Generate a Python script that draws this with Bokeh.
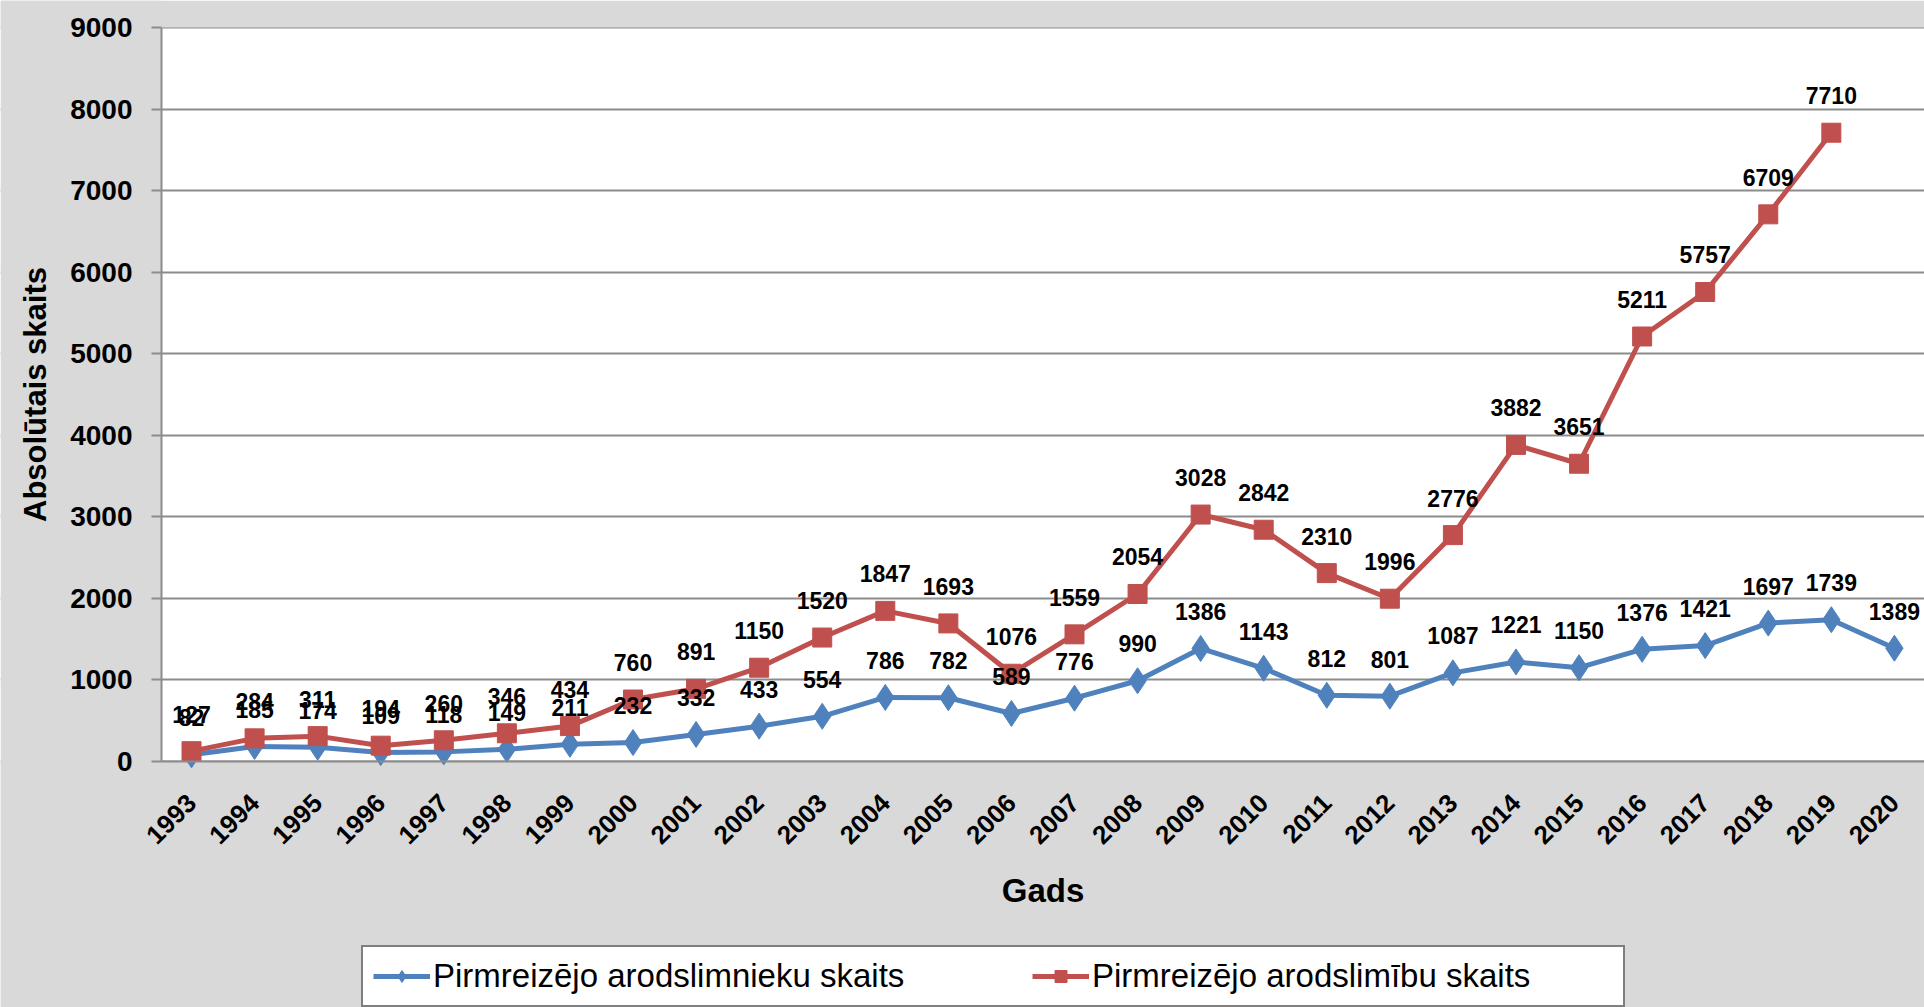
from bokeh.plotting import figure
from bokeh.models import (ColumnDataSource, Range1d, FixedTicker, Legend, LegendItem,
                          BoxAnnotation, Label)
from bokeh.core.properties import value
from bokeh.embed import file_html
from bokeh.resources import INLINE
import math

years = list(range(1993, 2021))
slimnieki = [82, 185, 174, 109, 118, 149, 211, 232, 332, 433, 554, 786, 782, 589,
             776, 990, 1386, 1143, 812, 801, 1087, 1221, 1150, 1376, 1421, 1697, 1739, 1389]
slimibas_years = list(range(1993, 2020))
slimibas = [127, 284, 311, 194, 260, 346, 434, 760, 891, 1150, 1520, 1847, 1693, 1076,
            1559, 2054, 3028, 2842, 2310, 1996, 2776, 3882, 3651, 5211, 5757, 6709, 7710]

label_blue = "Pirmreizējo arodslimnieku skaits"
label_red = "Pirmreizējo arodslimību skaits"
y_title = "Absolūtais skaits"
x_title = "Gads"

BLUE = "#4f81bd"
RED = "#c0504d"
BG = "#d9d9d9"
GRID = "#8c8c8c"
FONT = "Liberation Sans"

# layout (pixels): plot area left edge 161, top 27, 63.07 px per year, 734 px for 0..9000
PX_YEAR = 63.07
PX_Y = 734 / 9000
X0 = 1992.524                      # left edge of the plot area
X_START = X0 - 161 / PX_YEAR       # canvas left edge
X_END = X0 + 1763 / PX_YEAR        # canvas right edge
Y_MAX = 9000                       # top of the plot area
Y_TOP = Y_MAX + 27 / PX_Y          # canvas top edge
Y_MIN = -246 / PX_Y                # canvas bottom edge

src_b = ColumnDataSource(dict(x=years, y=slimnieki, lbl=[str(v) for v in slimnieki]))
src_r = ColumnDataSource(dict(x=slimibas_years, y=slimibas, lbl=[str(v) for v in slimibas]))

p = figure(width=1924, height=1007, frame_width=1924, frame_height=1007,
           output_backend="svg", toolbar_location=None,
           x_range=Range1d(X_START, X_END), y_range=Range1d(Y_MIN, Y_TOP),
           background_fill_color="white", border_fill_color=BG,
           min_border_left=0, min_border_top=0, min_border_right=0, min_border_bottom=0)
p.outline_line_color = None

# grey areas outside the Excel plot area
p.add_layout(BoxAnnotation(top=0, fill_color=BG, fill_alpha=1.0, line_color=None,
                           level="underlay"))
p.add_layout(BoxAnnotation(bottom=Y_MAX, fill_color=BG, fill_alpha=1.0, line_color=None,
                           level="underlay"))
p.add_layout(BoxAnnotation(right=X0, fill_color=BG, fill_alpha=1.0, line_color=None,
                           level="underlay"))

# grid
p.xgrid.grid_line_color = None
p.ygrid.grid_line_color = GRID
p.ygrid.grid_line_width = 2
p.yaxis.ticker = FixedTicker(ticks=list(range(0, 9001, 1000)))
p.xaxis.ticker = FixedTicker(ticks=years)

# y axis, drawn at the left edge of the plot area
p.yaxis.fixed_location = X0
p.yaxis.bounds = (0, Y_MAX)
p.yaxis.axis_line_color = GRID
p.yaxis.axis_line_width = 2
p.yaxis.major_tick_line_color = GRID
p.yaxis.major_tick_line_width = 2
p.yaxis.major_tick_out = 10
p.yaxis.major_tick_in = 0
p.yaxis.minor_tick_line_color = None
p.yaxis.major_label_text_font = FONT
p.yaxis.major_label_text_font_style = "bold"
p.yaxis.major_label_text_font_size = "28px"
p.yaxis.major_label_text_color = "black"
p.yaxis.major_label_standoff = 19

# x axis, drawn at y = 0
p.xaxis.fixed_location = 0
p.xaxis.bounds = (X0, X_END)
p.xaxis.axis_line_color = GRID
p.xaxis.axis_line_width = 2
p.xaxis.major_tick_line_color = None
p.xaxis.major_tick_out = 0
p.xaxis.major_tick_in = 0
p.xaxis.minor_tick_line_color = None
p.xaxis.major_label_orientation = math.pi / 4
p.xaxis.major_label_text_font = FONT
p.xaxis.major_label_text_font_style = "bold"
p.xaxis.major_label_text_font_size = "26px"
p.xaxis.major_label_text_color = "black"
p.xaxis.major_label_standoff = 37

# axis titles
p.add_layout(Label(x=X_START + 35 / PX_YEAR, y=Y_MAX / 2, text=y_title, angle=math.pi / 2,
                   text_align="center", text_baseline="middle", text_font=FONT,
                   text_font_style="bold", text_font_size="31px", text_color="black"))
p.add_layout(Label(x=(X0 + X_END) / 2, y=-129 / PX_Y, text=x_title,
                   text_align="center", text_baseline="middle", text_font=FONT,
                   text_font_style="bold", text_font_size="33px", text_color="black"))

# series
lb = p.line("x", "y", source=src_b, color=BLUE, line_width=5)
mb = p.scatter("x", "y", source=src_b, marker="diamond", size=26, color=BLUE)
lr = p.line("x", "y", source=src_r, color=RED, line_width=5)
mr = p.scatter("x", "y", source=src_r, marker="square", size=19, color=RED)

for src in (src_b, src_r):
    p.text("x", "y", text="lbl", source=src, y_offset=-37, text_align="center",
           text_baseline="middle", text_font=value(FONT), text_font_style="bold",
           text_font_size="23px", text_color="black")

legend = Legend(items=[LegendItem(label=label_blue, renderers=[lb, mb]),
                       LegendItem(label=label_red, renderers=[lr, mr])],
                orientation="horizontal", location=(361, 0), margin=0,
                padding=10, spacing=78, glyph_width=57, glyph_height=30,
                label_standoff=3, label_width=521,
                label_text_font=FONT, label_text_font_size="33px", label_text_color="black",
                border_line_color="black", border_line_width=2,
                background_fill_color="white", background_fill_alpha=1.0)
p.add_layout(legend, "center")

open("out.html", "w").write(file_html(p, INLINE))
